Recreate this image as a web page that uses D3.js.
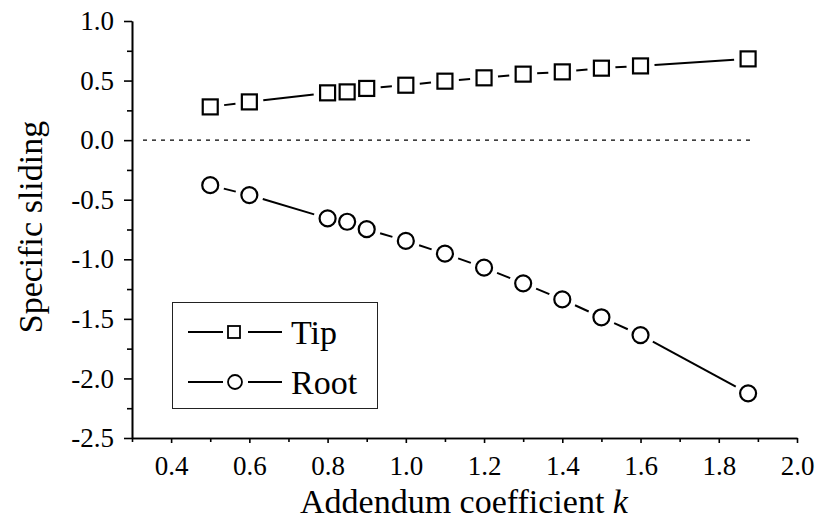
<!DOCTYPE html>
<html>
<head>
<meta charset="utf-8">
<script src="https://cdn.jsdelivr.net/npm/d3@7"></script>
</head>
<body style="margin:0">
<script>

var kValues = [0.5, 0.6, 0.8, 0.85, 0.9, 1.0, 1.1, 1.2, 1.3, 1.4, 1.5, 1.6, 1.875];
var tipValues = [0.279, 0.321, 0.397, 0.405, 0.434, 0.461, 0.495, 0.523, 0.554, 0.573, 0.604, 0.623, 0.682];
var rootValues = [-0.378, -0.461, -0.657, -0.685, -0.747, -0.846, -0.953, -1.07, -1.202, -1.337, -1.487, -1.636, -2.125];
var xTicks = [0.4, 0.6, 0.8, 1.0, 1.2, 1.4, 1.6, 1.8, 2.0];
var xMinor = [0.3, 0.5, 0.7, 0.9, 1.1, 1.3, 1.5, 1.7, 1.9];
var yTicks = [-2.5, -2.0, -1.5, -1.0, -0.5, 0.0, 0.5, 1.0];
var yMinor = [-2.25, -1.75, -1.25, -0.75, -0.25, 0.25, 0.75];

var serif = "'Liberation Serif'";

var svg = d3.select("body").append("svg")
    .attr("width", 819)
    .attr("height", 525)
    .style("font-family", serif);

var x = d3.scaleLinear().domain([0.3, 2.0]).range([132, 797]);
var y = d3.scaleLinear().domain([-2.5, 1.0]).range([438, 21]);

var fmt = function(d) { return d.toFixed(1); };

var styleAxis = function(g) {
    g.attr("font-family", null).attr("font-size", null);
    g.selectAll("path, line").attr("stroke", "#000").attr("stroke-width", 1.6);
    g.selectAll("text")
        .attr("fill", "#000")
        .style("font-family", serif)
        .style("font-size", "27px");
};

// minor ticks
svg.append("g")
    .attr("transform", "translate(0,438)")
    .call(d3.axisBottom(x).tickValues(xMinor).tickSize(4).tickSizeOuter(0).tickFormat(""))
    .call(styleAxis);
svg.append("g")
    .attr("transform", "translate(132,0)")
    .call(d3.axisLeft(y).tickValues(yMinor).tickSize(5).tickSizeOuter(0).tickFormat(""))
    .call(styleAxis);

// major axes
svg.append("g")
    .attr("transform", "translate(0,438)")
    .call(d3.axisBottom(x).tickValues(xTicks).tickSize(5).tickSizeOuter(0).tickPadding(13).tickFormat(fmt))
    .call(styleAxis);

svg.append("g")
    .attr("transform", "translate(132,0)")
    .call(d3.axisLeft(y).tickValues(yTicks).tickSize(8).tickSizeOuter(0).tickPadding(10).tickFormat(fmt))
    .call(styleAxis);

// zero reference line
svg.append("line")
    .attr("x1", 143).attr("x2", 750)
    .attr("y1", y(0)).attr("y2", y(0))
    .attr("stroke", "#000")
    .attr("stroke-width", 1.2)
    .attr("stroke-dasharray", "4,5");

// series: segments trimmed so they don't touch the markers
var drawSeries = function(values, shape) {
    var pts = kValues.map(function(k, i) { return [x(k), y(values[i])]; });
    var gap = 14;
    var segs = [];
    for (var i = 0; i < pts.length - 1; i++) {
        var a = pts[i], b = pts[i + 1];
        var dx = b[0] - a[0], dy = b[1] - a[1];
        var len = Math.sqrt(dx * dx + dy * dy);
        if (len <= 2 * gap + 1) continue;
        var ux = dx / len, uy = dy / len;
        segs.push([a[0] + ux * gap, a[1] + uy * gap, b[0] - ux * gap, b[1] - uy * gap]);
    }
    var g = svg.append("g");
    g.selectAll("line.seg")
        .data(segs)
        .enter().append("line")
        .attr("class", "seg")
        .attr("x1", function(d) { return d[0]; })
        .attr("y1", function(d) { return d[1]; })
        .attr("x2", function(d) { return d[2]; })
        .attr("y2", function(d) { return d[3]; })
        .attr("stroke", "#000")
        .attr("stroke-width", 2);

    if (shape === "square") {
        g.selectAll("rect")
            .data(pts)
            .enter().append("rect")
            .attr("x", function(d) { return d[0] - 7.5; })
            .attr("y", function(d) { return d[1] - 7.5; })
            .attr("width", 15).attr("height", 15)
            .attr("fill", "none")
            .attr("stroke", "#000")
            .attr("stroke-width", 2.2);
    } else {
        g.selectAll("circle")
            .data(pts)
            .enter().append("circle")
            .attr("cx", function(d) { return d[0]; })
            .attr("cy", function(d) { return d[1]; })
            .attr("r", 8)
            .attr("fill", "none")
            .attr("stroke", "#000")
            .attr("stroke-width", 2.2);
    }
};

drawSeries(tipValues, "square");
drawSeries(rootValues, "circle");

// legend
var legend = svg.append("g");
legend.append("rect")
    .attr("x", 172.5).attr("y", 302.5)
    .attr("width", 205).attr("height", 106)
    .attr("fill", "#fff")
    .attr("stroke", "#222")
    .attr("stroke-width", 1);

var legendItems = [
    { name: "Tip", shape: "square", ly: 332 },
    { name: "Root", shape: "circle", ly: 382 }
];
legendItems.forEach(function(it) {
    legend.append("line").attr("x1", 188).attr("x2", 223).attr("y1", it.ly).attr("y2", it.ly)
        .attr("stroke", "#000").attr("stroke-width", 2);
    legend.append("line").attr("x1", 248).attr("x2", 282).attr("y1", it.ly).attr("y2", it.ly)
        .attr("stroke", "#000").attr("stroke-width", 2);
    if (it.shape === "square") {
        legend.append("rect").attr("x", 228).attr("y", it.ly - 6).attr("width", 12).attr("height", 12)
            .attr("fill", "none").attr("stroke", "#000").attr("stroke-width", 1.8);
    } else {
        legend.append("circle").attr("cx", 235).attr("cy", it.ly).attr("r", 7)
            .attr("fill", "none").attr("stroke", "#000").attr("stroke-width", 1.8);
    }
    legend.append("text")
        .attr("x", 291).attr("y", it.ly + 12)
        .style("font-family", serif)
        .style("font-size", "34px")
        .text(it.name);
});

// axis titles
var xTitle = svg.append("text")
    .attr("x", 464).attr("y", 513)
    .attr("text-anchor", "middle")
    .style("font-family", serif)
    .style("font-size", "34px");
xTitle.append("tspan").text("Addendum coefficient ");
xTitle.append("tspan").style("font-style", "italic").text("k");

svg.append("text")
    .attr("transform", "translate(42,227) rotate(-90)")
    .attr("text-anchor", "middle")
    .style("font-family", serif)
    .style("font-size", "34px")
    .text("Specific sliding");

// force layout of the texts so the serif face is picked up
svg.selectAll("text").each(function() {
    getComputedStyle(this).fontFamily;
    this.getComputedTextLength();
});

</script>
</body>
</html>
